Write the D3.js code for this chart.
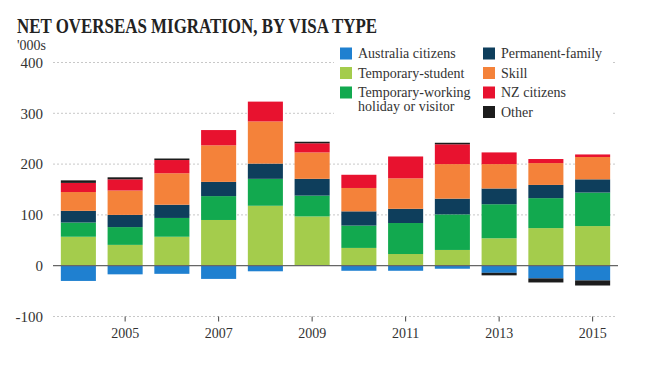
<!DOCTYPE html>
<html><head><meta charset="utf-8">
<script src="https://cdn.jsdelivr.net/npm/d3@7/dist/d3.min.js"></script>
<style>body{margin:0;background:#fff}svg{display:block}
text{font-family:"Liberation Serif","Times New Roman",serif}</style>
</head><body><svg id="c" width="650" height="371"></svg>
<script>
const years = ["2004","2005","2006","2007","2008","2009","2010","2011","2012","2013","2014","2015"];
const ausCitizens   = [-30,-17,-16,-26,-11,0,-10,-10,-6,-14,-25,-29];
const tempStudent   = [57,41,57,90,118,97,35,23,31,54,74,78];
const tempWorking   = [28,35,37,47,53,41,44,61,70,67,59,66];
const permFamily    = [23,24,26,28,30,33,28,28,31,31,26,26];
const skill         = [37,48,62,72,83,52,46,60,68,48,43,44];
const nzCitizens    = [18,22,26,30,39,18,26,43,39,23,8,5];
const other         = [5,4,3,0,0,3,0,0,3,-5,-8,-10];
const yTicks = [-100,0,100,200,300,400];
const xTickYears = ["2005","2007","2009","2011","2013","2015"];

const series = [
  {name:"Australia citizens", values:ausCitizens, color:"#1f80d0", lines:["Australia citizens"]},
  {name:"Temporary-student", values:tempStudent, color:"#a4cc4c", lines:["Temporary-student"]},
  {name:"Temporary-working holiday or visitor", values:tempWorking, color:"#12a94f", lines:["Temporary-working","holiday or visitor"]},
  {name:"Permanent-family", values:permFamily, color:"#0e3e5c", lines:["Permanent-family"]},
  {name:"Skill", values:skill, color:"#f4823a", lines:["Skill"]},
  {name:"NZ citizens", values:nzCitizens, color:"#e8122f", lines:["NZ citizens"]},
  {name:"Other", values:other, color:"#1c1c1c", lines:["Other"]}
];

const svg = d3.select("#c");
const x = d3.scaleBand().domain(years).range([55,616]).paddingInner(0.25).paddingOuter(0.125);
const y = d3.scaleLinear().domain([-100,400]).range([316.5,62.5]);

svg.append("g").selectAll("line").data(yTicks.filter(d=>d!==0)).join("line")
  .attr("x1",53).attr("x2",617).attr("y1",d=>y(d)).attr("y2",d=>y(d))
  .attr("stroke","#c8c8c8").attr("stroke-width",1).attr("stroke-dasharray","2,2");

svg.append("g").selectAll("text").data(yTicks).join("text")
  .attr("x",43).attr("y",d=>y(d)).attr("dy","0.35em").attr("text-anchor","end")
  .attr("font-size",15).attr("fill","#333")
  .text(d=>d);
svg.append("text").attr("x",17).attr("y",50)
  .attr("font-size",14).attr("fill","#333").text("'000s");

const stackData = years.map((yr,i)=>{ const o={year:yr}; series.forEach(s=>o[s.name]=s.values[i]); return o; });
const stack = d3.stack().keys(series.map(s=>s.name)).offset(d3.stackOffsetDiverging);
const stacked = stack(stackData);
const g = svg.append("g");
stacked.forEach((layer,li)=>{
  g.append("g").attr("fill",series[li].color).selectAll("rect").data(layer).join("rect")
    .attr("x",d=>x(d.data.year)).attr("width",x.bandwidth())
    .attr("y",d=>y(Math.max(d[0],d[1]))).attr("height",d=>Math.abs(y(d[0])-y(d[1])));
});

svg.append("line").attr("x1",53).attr("x2",618).attr("y1",y(0)).attr("y2",y(0))
  .attr("stroke","#666").attr("stroke-width",1.2);

const xt = svg.append("g");
xt.selectAll("line").data(xTickYears).join("line")
  .attr("x1",d=>x(d)+x.bandwidth()/2).attr("x2",d=>x(d)+x.bandwidth()/2)
  .attr("y1",y(-100)).attr("y2",y(-100)+5).attr("stroke","#444").attr("stroke-width",1);
xt.selectAll("text").data(xTickYears).join("text")
  .attr("x",d=>x(d)+x.bandwidth()/2).attr("y",338).attr("text-anchor","middle")
  .attr("font-size",14).attr("fill","#333").text(d=>d);

svg.append("rect").attr("x",334).attr("y",42).attr("width",278).attr("height",80).attr("fill","#fff");
const legendItems = [
  {s:0,col:0,row:0},{s:1,col:0,row:1},{s:2,col:0,row:2},
  {s:3,col:1,row:0},{s:4,col:1,row:1},{s:5,col:1,row:2},{s:6,col:1,row:3}
];
const lg = svg.append("g");
legendItems.forEach(it=>{
  const lx = it.col===0 ? 340 : 483;
  const ly = 53.5 + it.row*19.5;
  lg.append("rect").attr("x",lx).attr("y",ly-6).attr("width",12).attr("height",12).attr("fill",series[it.s].color);
  series[it.s].lines.forEach((ln,k)=>{
    lg.append("text").attr("x",lx+18).attr("y",ly + k*14).attr("dy","0.35em")
      .attr("font-size",14).attr("fill","#333").text(ln);
  });
});

svg.append("text").attr("x",17).attr("y",33)
  .attr("font-weight","bold").attr("font-size",20).attr("fill","#222")
  .attr("textLength",360).attr("lengthAdjust","spacingAndGlyphs")
  .text("NET OVERSEAS MIGRATION, BY VISA TYPE");
</script></body></html>
